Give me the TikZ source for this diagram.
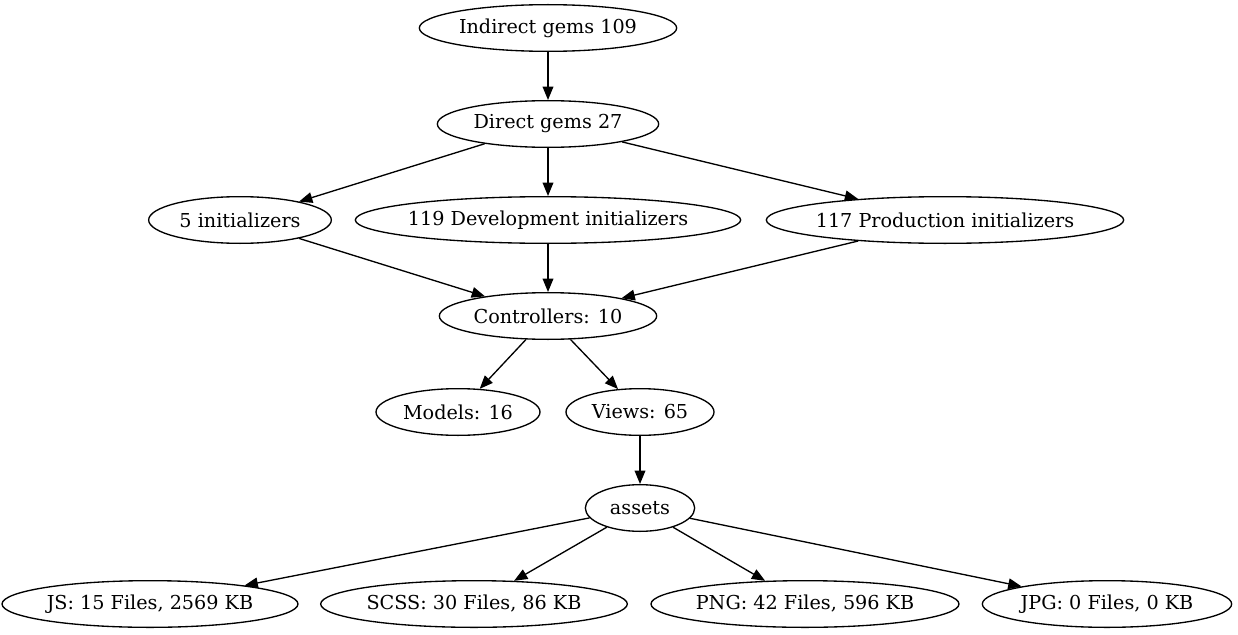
\documentclass[tikz,border=0pt]{standalone}
\usepackage{fontspec}
\setmainfont{DejaVu Serif}
\usetikzlibrary{shapes.geometric,arrows.meta}
\tikzset{
  blob/.style={ellipse,draw,line width=1pt,inner xsep=-25pt,inner ysep=0pt,minimum height=35pt,font=\fontsize{14.4}{16}\selectfont},
  link/.style={-{Triangle[length=10pt,width=8pt]},line width=1pt}
}
\begin{document}
\begin{tikzpicture}[x=0.75pt,y=-0.75pt]
\useasboundingbox (0,0) rectangle (1238,635);
\node (ig) [blob,minimum width=193pt] at (548,28) {Indirect gems 109};
\node (dg) [blob,minimum width=166pt] at (548,124) {Direct gems 27};
\node (fi) [blob,minimum width=137pt] at (240,220) {5 initializers};
\node (di) [blob,minimum width=289pt] at (548,220) {119 Development initializers};
\node (pi) [blob,minimum width=268pt] at (945,220) {117 Production initializers};
\node (c) [blob,minimum width=163pt] at (548,316) {Controllers: 10};
\node (m) [blob,minimum width=123pt] at (458,412) {Models: 16};
\node (v) [blob,minimum width=111pt] at (640,412) {Views: 65};
\node (a) [blob,minimum width=82pt] at (640,508) {assets};
\node (js) [blob,minimum width=222pt] at (150,604) {JS: 15 Files, 2569 KB};
\node (sc) [blob,minimum width=230pt] at (474,604) {SCSS: 30 Files, 86 KB};
\node (pn) [blob,minimum width=231pt] at (805,604) {PNG: 42 Files, 596 KB};
\node (jp) [blob,minimum width=187pt] at (1107,604) {JPG: 0 Files, 0 KB};

\draw [link] (ig)--(dg);
\draw [link] (dg)--(fi);
\draw [link] (dg)--(di);
\draw [link] (dg)--(pi);
\draw [link] (fi)--(c);
\draw [link] (di)--(c);
\draw [link] (pi)--(c);
\draw [link] (c)--(m);
\draw [link] (c)--(v);
\draw [link] (v)--(a);
\draw [link] (a)--(js);
\draw [link] (a)--(sc);
\draw [link] (a)--(pn);
\draw [link] (a)--(jp);
\end{tikzpicture}
\end{document}
